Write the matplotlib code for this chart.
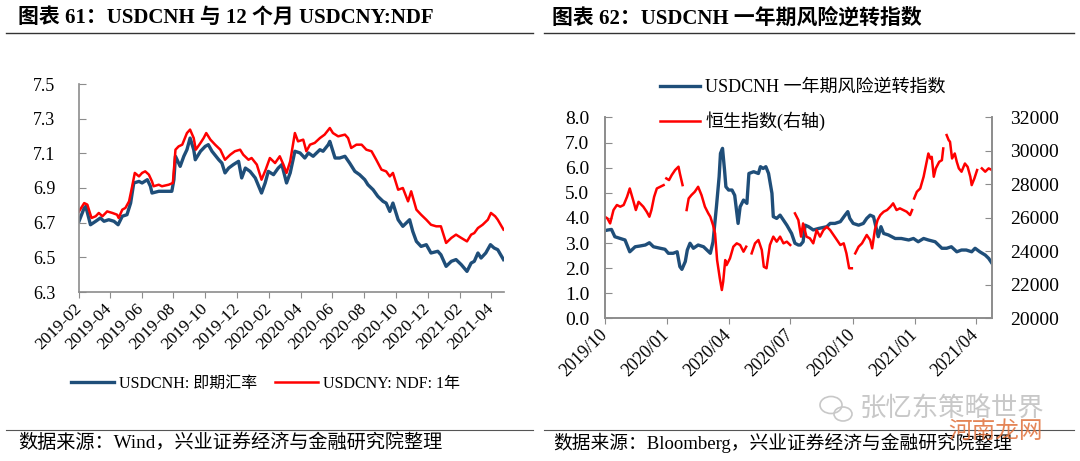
import numpy as np
import pandas as pd
import matplotlib
matplotlib.use('Agg')
import matplotlib.pyplot as plt
from matplotlib.lines import Line2D
from matplotlib.patches import Ellipse

FONT = ['Liberation Serif', 'Noto Sans CJK SC']
plt.rcParams['font.family'] = FONT

BLUE = '#1f4e79'
RED = '#ff0000'
GRAY = '#8c8c8c'

# ---------------- Chart 61 data (days after 2019-02-01) ----------------
cnh_day = [0, 10, 13, 22, 32, 41, 48, 57, 67, 75, 83, 92, 99, 105, 115, 121, 131, 137, 140, 153,
           166, 178, 182, 185, 194, 201, 207, 213, 220, 223, 233, 242, 248, 255, 268, 274, 280, 287,
           296, 306, 312, 319, 328, 338, 350, 357, 363, 373, 382, 389, 398, 405, 414, 424, 433, 440,
           449, 462, 468, 478, 481, 491, 500, 510, 519, 529, 538, 548, 554, 564, 573, 583, 589, 596,
           602, 612, 621, 634, 640, 647, 656, 666, 675, 688, 694, 704, 714, 723, 733, 744, 752, 758,
           765, 771, 780, 789, 796, 803, 814]
cnh_val = [6.708, 6.785, 6.794, 6.688, 6.708, 6.727, 6.708, 6.717, 6.708, 6.688, 6.737, 6.746, 6.813,
           6.929, 6.938, 6.929, 6.948, 6.910, 6.871, 6.881, 6.881, 6.881, 6.948, 7.083, 7.025, 7.083,
           7.121, 7.188, 7.121, 7.063, 7.112, 7.140, 7.150, 7.112, 7.063, 7.044, 6.987, 7.015, 7.035,
           7.054, 6.958, 7.015, 6.996, 6.958, 6.871, 6.929, 6.996, 6.977, 7.015, 7.035, 6.929, 6.987,
           7.112, 7.102, 7.073, 7.102, 7.083, 7.121, 7.112, 7.150, 7.169, 7.073, 7.073, 7.083, 7.044,
           6.996, 6.977, 6.948, 6.919, 6.890, 6.852, 6.823, 6.813, 6.765, 6.813, 6.717, 6.679, 6.717,
           6.650, 6.592, 6.563, 6.573, 6.525, 6.535, 6.515, 6.448, 6.477, 6.487, 6.458, 6.419, 6.467,
           6.477, 6.525, 6.496, 6.525, 6.573, 6.554, 6.544, 6.487]

ndf_day = [0, 10, 16, 24, 32, 38, 45, 54, 64, 73, 76, 83, 89, 96, 102, 107, 115, 121, 127, 134, 140,
           143, 153, 159, 172, 180, 185, 191, 198, 207, 213, 220, 224, 233, 239, 244, 252, 261, 271,
           280, 290, 299, 309, 315, 325, 331, 341, 350, 358, 366, 376, 385, 392, 398, 405, 414, 420,
           430, 436, 443, 452, 462, 471, 481, 487, 497, 510, 516, 522, 532, 542, 551, 561, 570, 580,
           589, 596, 602, 612, 621, 631, 637, 647, 656, 666, 675, 685, 694, 704, 714, 723, 733, 744,
           752, 758, 765, 774, 784, 790, 798, 803, 814]
ndf_val = [6.765, 6.813, 6.804, 6.727, 6.737, 6.756, 6.737, 6.765, 6.756, 6.746, 6.727, 6.775, 6.785,
           6.823, 6.910, 6.987, 6.967, 6.987, 6.996, 6.977, 6.938, 6.910, 6.919, 6.910, 6.919, 6.929,
           7.121, 7.140, 7.150, 7.217, 7.237, 7.188, 7.121, 7.160, 7.188, 7.217, 7.179, 7.150, 7.121,
           7.063, 7.092, 7.112, 7.121, 7.092, 7.063, 7.073, 7.035, 6.948, 7.006, 7.073, 7.044, 7.083,
           7.035, 6.987, 7.054, 7.217, 7.169, 7.179, 7.112, 7.150, 7.160, 7.188, 7.208, 7.246, 7.217,
           7.198, 7.208, 7.188, 7.131, 7.150, 7.150, 7.121, 7.112, 7.063, 7.006, 6.996, 6.967, 6.987,
           6.890, 6.900, 6.823, 6.881, 6.775, 6.746, 6.717, 6.688, 6.679, 6.679, 6.583, 6.612, 6.631,
           6.612, 6.592, 6.631, 6.640, 6.669, 6.688, 6.717, 6.756, 6.737, 6.717, 6.660]

left_ticks = ['2019-02', '2019-04', '2019-06', '2019-08', '2019-10', '2019-12', '2020-02',
              '2020-04', '2020-06', '2020-08', '2020-10', '2020-12', '2021-02', '2021-04']
left_yticks = [6.3, 6.5, 6.7, 6.9, 7.1, 7.3, 7.5]

# ---------------- Chart 62 data (days after 2019-10-01) ----------------
rr_day = [0, 5, 10, 15, 23, 30, 37, 45, 52, 60, 66, 72, 82, 89, 94, 101, 107, 111, 114, 119, 122,
          126, 131, 138, 146, 156, 160, 165, 169, 171, 174, 177, 179, 183, 188, 192, 197, 200, 205,
          210, 213, 220, 227, 230, 234, 238, 242, 247, 249, 254, 259, 264, 269, 276, 281, 286, 289,
          293, 296, 301, 308, 316, 328, 333, 340, 348, 355, 359, 362, 367, 375, 382, 387, 392, 397,
          400, 404, 408, 412, 419, 429, 438, 449, 456, 463, 471, 478, 488, 498, 505, 512, 520, 527,
          534, 542, 547, 554, 562, 567, 572]
rr_val = [3.49, 3.52, 3.54, 3.25, 3.18, 3.12, 2.65, 2.85, 2.88, 2.92, 3.01, 2.85, 2.79, 2.75, 2.59,
          2.59, 2.65, 2.06, 1.95, 2.26, 2.72, 2.99, 2.79, 2.92, 2.85, 2.59, 3.05, 4.44, 5.64, 6.57,
          6.77, 5.90, 5.24, 5.11, 5.11, 4.90, 3.78, 4.44, 4.71, 4.58, 5.77, 5.84, 5.77, 6.04, 5.97,
          6.04, 5.77, 4.98, 4.05, 3.98, 4.11, 3.91, 3.71, 3.38, 2.99, 2.92, 2.92, 3.05, 3.71, 3.65,
          3.52, 3.58, 3.65, 3.78, 3.78, 3.85, 4.11, 4.25, 3.98, 3.78, 3.71, 3.78, 3.98, 4.11, 4.05,
          3.71, 3.25, 3.65, 3.38, 3.32, 3.18, 3.18, 3.12, 3.18, 3.05, 3.18, 3.12, 3.05, 2.79, 2.79,
          2.85, 2.65, 2.72, 2.72, 2.65, 2.79, 2.65, 2.52, 2.39, 2.19]

nan = np.nan
hsi_day = [0, 4, 8, 13, 18, 23, 28, 33, 37, 42, 46, 50, 57, 62, 66, 69, 73, 77, 82, 87, 89, 91, 95,
           99, 104, 109, 111, 115, 117, 121, 124, 128, 133, 138, 143, 148, 153, 156, 160, 163, 166,
           170, 173, 175, 178, 180, 185, 190, 195, 200, 205, 209, 213, 217, 222, 227, 232, 235, 239,
           244, 249, 254, 259, 264, 269, 274, 276, 281, 286, 290, 293, 298, 303, 308, 313, 318, 323,
           328, 333, 338, 343, 348, 353, 357, 361, 365, 367, 370, 375, 380, 387, 392, 395, 399, 403,
           407, 412, 417, 422, 426, 431, 436, 441, 446, 451, 454, 455, 457, 461, 466, 471, 476, 478,
           481, 483, 486, 489, 494, 498, 500, 503, 505, 508, 510, 513, 517, 520, 523, 527, 532, 536,
           540, 542, 546, 550, 552, 557, 562, 567, 572]
hsi_val = [26070, 25970, 25670, 26470, 26770, 26670, 26770, 27260, 27760, 27060, 26470, 26960, 26670,
           26370, 26070, 26470, 27260, 27760, 27860, 27960, nan, 28360, 28260, 28560, 28860, 29060,
           28660, 27960, nan, 26470, 27160, 27360, 27560, 27860, 27360, 26670, 26270, 26070, 25570,
           25070, 23480, 22390, 21690, 22190, 23480, 23180, 23580, 24280, 24480, 24380, 23980, 24280,
           nan, 23880, 24480, 24680, 24080, 23080, 22990, 24380, 24880, 24580, 24880, 24480, 24580,
           24380, nan, 26270, 25870, 24880, 25670, 24880, 24780, 24480, 25270, 24880, 25270, 25470,
           25270, 24980, 24680, 24380, 24480, 23880, 22990, 22990, nan, 23880, 24280, 24480, 24980,
           24680, 24180, 25270, 25870, 26170, 26370, 26470, 26670, 26870, 26470, 26570, 26470, 26370,
           26170, 26470, nan, 27160, 27560, 27760, 28460, 29450, 29850, 29550, 29650, 28460, 28960,
           29350, 29450, 30150, nan, 30950, 30650, 30550, 29550, 29850, 29350, 28960, 28760, 29250,
           29050, 28460, 27960, 28360, 28860, nan, 28960, 28760, 28960, 28860]

right_ticks = ['2019/10', '2020/01', '2020/04', '2020/07', '2020/10', '2021/01', '2021/04']
rr_yticks = [0, 1, 2, 3, 4, 5, 6, 7, 8]
hsi_yticks = [20000, 22000, 24000, 26000, 28000, 30000, 32000]

# ---------------- figure ----------------
W, H = 1080, 461
fig = plt.figure(figsize=(W / 100, H / 100), dpi=100)


def fx(px):
    return px / W


def fy(py):
    return 1 - py / H


# titles and rules
fig.text(fx(18), fy(18), '图表 61：USDCNH 与 12 个月 USDCNY:NDF', fontsize=15,
         fontweight='bold', va='center', ha='left')
fig.text(fx(552), fy(18), '图表 62：USDCNH 一年期风险逆转指数', fontsize=15,
         fontweight='bold', va='center', ha='left')
for x0, x1 in [(6, 533), (544, 1074)]:
    fig.add_artist(Line2D([fx(x0), fx(x1)], [fy(33.5), fy(33.5)], color='#333333', lw=1.0,
                          transform=fig.transFigure))
    fig.add_artist(Line2D([fx(x0), fx(x1)], [fy(430), fy(430)], color='#555555', lw=0.8,
                          transform=fig.transFigure))

fig.text(fx(18), fy(443), '数据来源：Wind，兴业证券经济与金融研究院整理', fontsize=13.8,
         va='center', ha='left')
fig.text(fx(553), fy(443), '数据来源：Bloomberg，兴业证券经济与金融研究院整理', fontsize=13.5,
         va='center', ha='left')

# watermarks
for cx, cy, w, h in [(831, 405, 22, 17), (843, 414, 18, 14)]:
    fig.add_artist(Ellipse((fx(cx), fy(cy)), fx(w), h / H, fill=False, ec='#c8c8c8', lw=1.2,
                           transform=fig.transFigure))
fig.text(fx(860), fy(408), '张忆东策略世界', fontsize=19, color='#c8c8c8', va='center', ha='left',
         family=['Noto Sans CJK SC'])
fig.text(fx(948), fy(431), '河南龙网', fontsize=17, color='#e0703a', alpha=0.85, va='center',
         ha='left', family=['Noto Sans CJK SC'])

# ---------------- left chart ----------------
base1 = pd.Timestamp('2019-02-01')
ax1 = fig.add_axes([fx(79), fy(292), fx(504) - fx(79), fy(84) - fy(292)])
cnh_dates = base1 + pd.to_timedelta(cnh_day, unit='D')
ndf_dates = base1 + pd.to_timedelta(ndf_day, unit='D')
ax1.plot(cnh_dates, cnh_val, color=BLUE, lw=2.4, label='USDCNH: 即期汇率')
ax1.plot(ndf_dates, ndf_val, color=RED, lw=1.8, label='USDCNY: NDF: 1年')
ax1.set_ylim(6.3, 7.5)
ax1.set_yticks(left_yticks)
ax1.set_yticklabels([f'{v:.1f}' for v in left_yticks])
lt = pd.to_datetime(left_ticks, format='%Y-%m')
ax1.set_xticks(lt)
ax1.set_xticklabels(left_ticks, rotation=45, ha='right', va='center', rotation_mode='anchor')
ax1.set_xlim(base1, base1 + pd.Timedelta(days=815))
for s in ['top', 'right']:
    ax1.spines[s].set_visible(False)
for s in ['left', 'bottom']:
    ax1.spines[s].set_color(GRAY)
    ax1.spines[s].set_linewidth(1.2)
ax1.tick_params(axis='y', direction='in', length=5, color=GRAY, pad=17, labelsize=13)
ax1.tick_params(axis='x', direction='out', length=4, color=GRAY, pad=6, labelsize=12.5)

h1, l1 = ax1.get_legend_handles_labels()
fig.legend(h1, l1, loc='upper left', bbox_to_anchor=(fx(71), fy(376)), ncol=2, frameon=False,
           fontsize=11.5, handlelength=2.7, handletextpad=0.3, columnspacing=1.1, borderpad=0,
           borderaxespad=0)

# ---------------- right chart ----------------
base2 = pd.Timestamp('2019-10-01')
ax2 = fig.add_axes([fx(604.7), fy(318.3), fx(992) - fx(604.7), fy(117.5) - fy(318.3)])
rr_dates = base2 + pd.to_timedelta(rr_day, unit='D')
hsi_dates = base2 + pd.to_timedelta(hsi_day, unit='D')
l_rr, = ax2.plot(rr_dates, rr_val, color=BLUE, lw=2.4, label='USDCNH 一年期风险逆转指数')
ax2.set_ylim(0, 8)
ax2.set_yticks(rr_yticks)
ax2.set_yticklabels([f'{v:.1f}' for v in rr_yticks])
rt = pd.to_datetime(right_ticks, format='%Y/%m')
ax2.set_xticks(rt)
ax2.set_xticklabels(right_ticks, rotation=45, ha='right', va='center', rotation_mode='anchor')
ax2.set_xlim(base2, base2 + pd.Timedelta(days=572))

ax2r = ax2.twinx()
l_hsi, = ax2r.plot(hsi_dates, hsi_val, color=RED, lw=1.8, label='恒生指数(右轴)')
ax2r.set_ylim(20000, 32000)
ax2r.set_yticks(hsi_yticks)
ax2r.set_yticklabels([str(v) for v in hsi_yticks])
ax2r.set_xlim(base2, base2 + pd.Timedelta(days=572))

for a in (ax2, ax2r):
    a.spines['top'].set_visible(False)
    for s in ['left', 'right', 'bottom']:
        a.spines[s].set_color(GRAY)
        a.spines[s].set_linewidth(1.2)
ax2.tick_params(axis='y', direction='in', length=5, color=GRAY, pad=11, labelsize=14)
ax2.tick_params(axis='x', direction='out', length=4, color=GRAY, pad=6, labelsize=13)
ax2r.tick_params(axis='y', direction='in', length=5, color=GRAY, pad=13, labelsize=14)

fig.legend([l_rr, l_hsi], [l_rr.get_label(), l_hsi.get_label()], loc='upper left',
           bbox_to_anchor=(fx(660), fy(79)), frameon=False, fontsize=13, handlelength=2.2,
           handletextpad=0.3, labelspacing=0.85, borderpad=0, borderaxespad=0)

fig.savefig('out.png', dpi=100)
